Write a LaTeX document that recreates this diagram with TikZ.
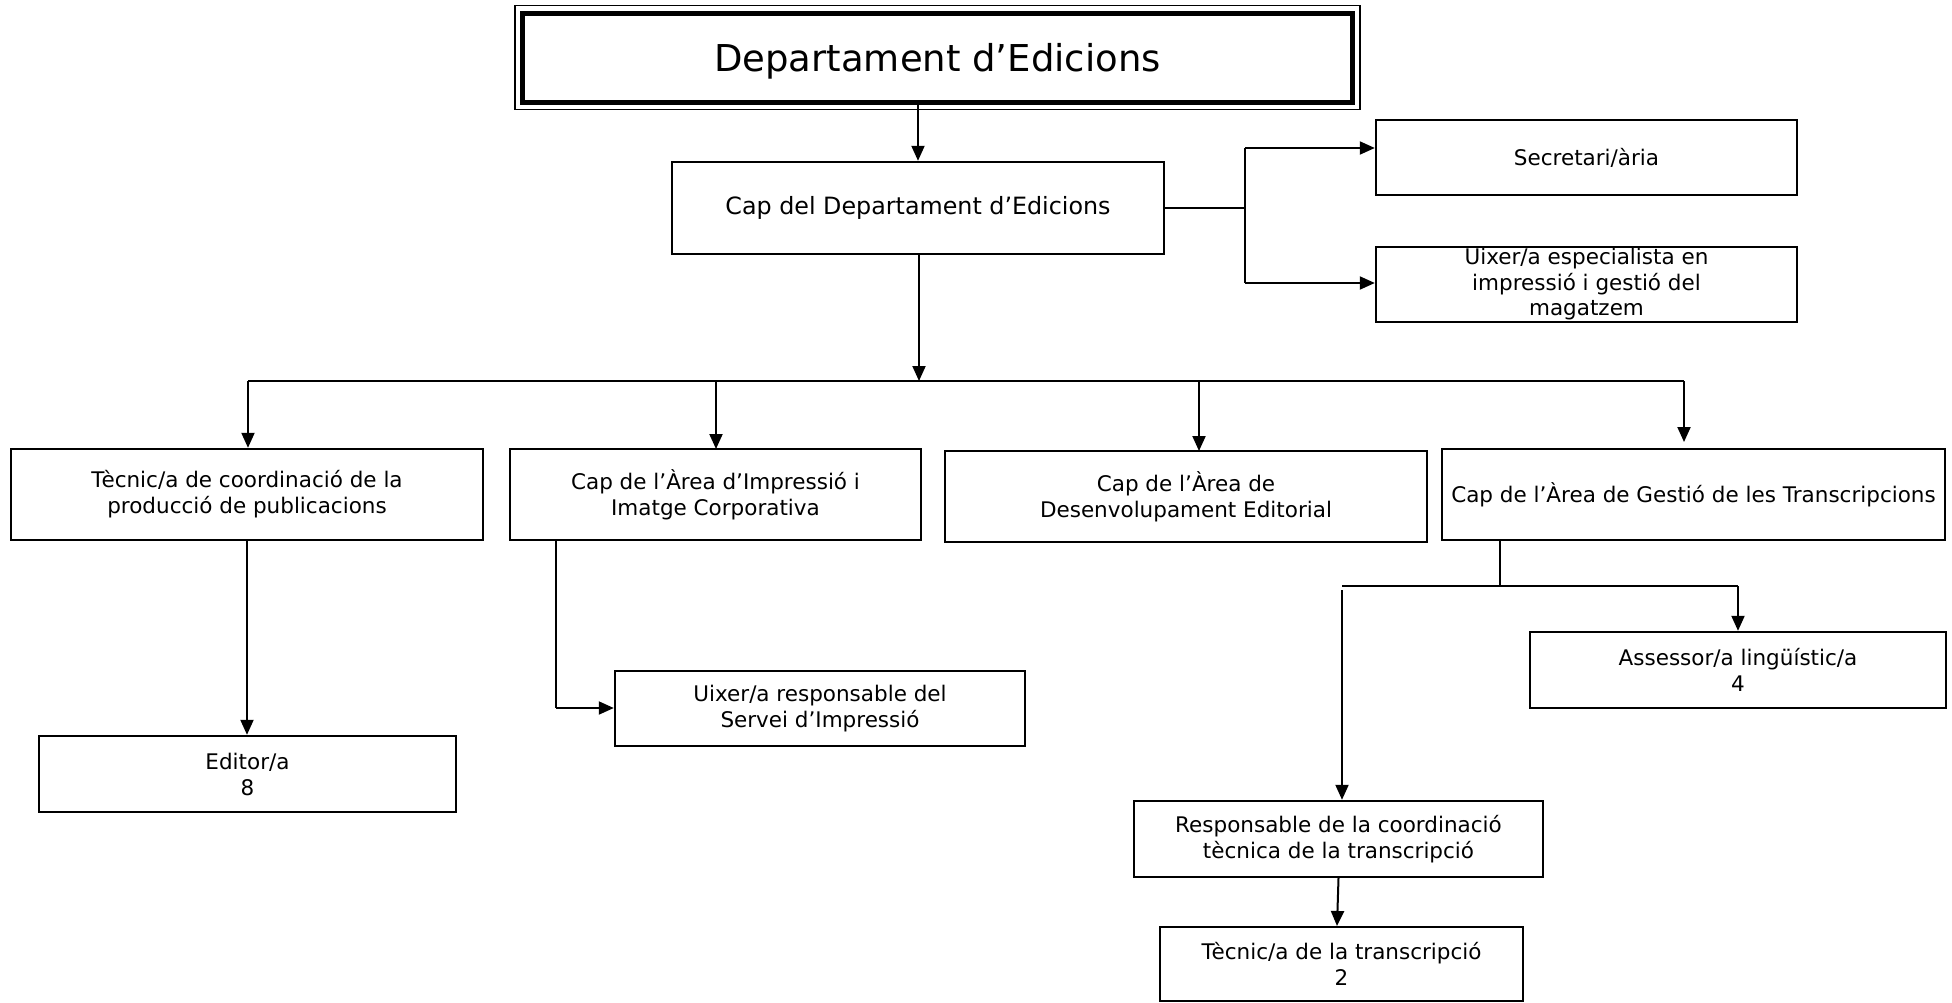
\documentclass[tikz,border=0pt]{standalone}
\usepackage{fontspec}
\setmainfont{DejaVu Sans}
\usetikzlibrary{arrows.meta}
\begin{document}
\begin{tikzpicture}[x=1pt,y=-1pt,
  box/.style={draw,line width=2.4pt,align=center,inner sep=0pt,font=\fontsize{21.5}{26}\selectfont},
  conn/.style={line width=2pt},
  arr/.style={conn,-{Triangle[length=15pt,width=13pt]}}]
\useasboundingbox (0,0) rectangle (1952,1002);
% title
\node[draw,line width=5pt,minimum width=830pt,minimum height=89pt,inner sep=0pt,font=\fontsize{37}{40}\selectfont] (title) at (937.5,57.5) {\rule{0pt}{35.5pt}Departament d’Edicions};
\draw[line width=1.2pt] ([shift={(-5,-5)}]title.north west) rectangle ([shift={(5,5)}]title.south east);
% boxes
\node[box,minimum width=492pt,minimum height=92pt,font=\fontsize{23.8}{28}\selectfont] (cap) at (918,208) {Cap del Departament d’Edicions};
\node[box,minimum width=421pt,minimum height=75pt] (sec) at (1586.5,157.5) {Secretari/ària};
\node[box,minimum width=421pt,minimum height=75pt,font=\fontsize{21.5}{25.5}\selectfont] (uix) at (1586.5,284.5) {Uixer/a especialista en\\ impressió i gestió del\\ magatzem};
\node[box,minimum width=472pt,minimum height=91pt] (tec) at (247,494.5) {Tècnic/a de coordinació de la\\ producció de publicacions};
\node[box,minimum width=411pt,minimum height=91pt] (imp) at (715.5,494.5) {Cap de l’Àrea d’Impressió i\\ Imatge Corporativa};
\node[box,minimum width=482pt,minimum height=91pt] (des) at (1186,496.5) {Cap de l’Àrea de\\ Desenvolupament Editorial};
\node[box,minimum width=503pt,minimum height=91pt] (ges) at (1693.5,494.5) {Cap de l’Àrea de Gestió de les Transcripcions};
\node[box,minimum width=417pt,minimum height=76pt] (edi) at (247.5,774) {Editor/a\\ 8};
\node[box,minimum width=410pt,minimum height=75pt] (uresp) at (820,708.5) {Uixer/a responsable del\\ Servei d’Impressió};
\node[box,minimum width=416pt,minimum height=76pt] (ass) at (1738,670) {Assessor/a lingüístic/a\\ 4};
\node[box,minimum width=409pt,minimum height=76pt] (resp) at (1338.5,839) {Responsable de la coordinació\\ tècnica de la transcripció};
\node[box,minimum width=363pt,minimum height=74pt] (tect) at (1341.5,964) {Tècnic/a de la transcripció\\ 2};
% helper coordinates
\coordinate (rj) at (1245,208);
\coordinate (rs) at (1245,148);
\coordinate (ru) at (1245,283);
\coordinate (bus) at (919,381);
\coordinate (busL) at (248,381);
\coordinate (busR) at (1684,381);
\coordinate (gesEnd) at (1684,442);
\coordinate (impT) at (556,708);
\coordinate (gj) at (1500,586);
\coordinate (gL) at (1342,586);
\coordinate (gLs) at (1342,590);
\coordinate (gR) at (1738,586);
\coordinate (tectIn) at (1337,926);
% connectors
\draw[arr] (title.south -| cap.north) -- (cap.north);
\draw[conn] (cap.east) -- (rj);
\draw[conn] (rs) -- (ru);
\draw[arr] (rs) -- (rs -| sec.west);
\draw[arr] (ru) -- (ru -| uix.west);
\draw[arr] (cap.south -| bus) -- (bus);
\draw[conn] (busL) -- (busR);
\draw[arr] (busL) -- (busL |- tec.north);
\draw[arr] (716,381) -- (716,449);
\draw[arr] (1199,381) -- (1199,451);
\draw[arr] (busR) -- (gesEnd);
\draw[arr] (tec.south) -- (tec.south |- edi.north);
\draw[conn] (impT |- imp.south) -- (impT);
\draw[arr] (impT) -- (impT -| uresp.west);
\draw[conn] (gj |- ges.south) -- (gj);
\draw[conn] (gL) -- (gR);
\draw[arr] (gR) -- (ass.north);
\draw[arr] (gLs) -- (gLs |- resp.north);
\draw[arr] (resp.south) -- (tectIn);
\end{tikzpicture}
\end{document}
